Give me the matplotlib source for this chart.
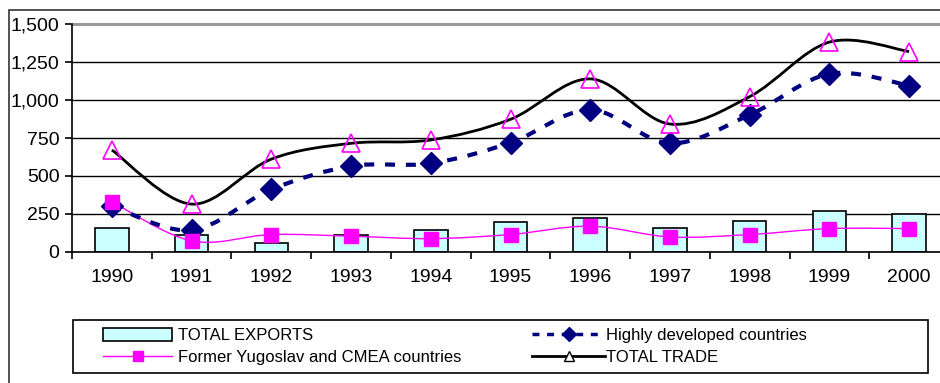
import numpy as np
import matplotlib
matplotlib.use('Agg')
from matplotlib import pyplot as plt
from matplotlib.path import Path
from matplotlib.patches import PathPatch, Rectangle
from matplotlib.lines import Line2D
from matplotlib.ticker import FuncFormatter

plt.rcParams['font.family'] = ['Liberation Sans', 'DejaVu Sans']

years = ['1990', '1991', '1992', '1993', '1994', '1995',
         '1996', '1997', '1998', '1999', '2000']
total_exports = [155, 115, 60, 115, 143, 198, 224, 161, 207, 270, 253]
former_yu_cmea = [330, 73, 115, 104, 88, 115, 170, 99, 115, 154, 154]
highly_developed = [303, 143, 412, 565, 583, 719, 935, 715, 902, 1172, 1095]
total_trade = [671, 315, 611, 715, 737, 873, 1139, 842, 1022, 1381, 1319]


def smooth_path(xs, ys):
    # excel-style smoothed line: cubic bezier through every point
    pts = np.column_stack([xs, ys]).astype(float)
    n = len(pts)
    verts = [pts[0]]
    codes = [Path.MOVETO]
    for i in range(n - 1):
        p0 = pts[i - 1] if i > 0 else pts[i]
        p1 = pts[i]
        p2 = pts[i + 1]
        p3 = pts[i + 2] if i + 2 < n else pts[i + 1]
        c1 = p1 + (p2 - p0) / 6.0
        c2 = p2 - (p3 - p1) / 6.0
        verts += [c1, c2, p2]
        codes += [Path.CURVE4] * 3
    return Path(verts, codes)


W, H = 940, 383
fig = plt.figure(figsize=(W / 100, H / 100), dpi=100)
fig.patch.set_facecolor('white')

# outer chart frame (right and bottom edges fall outside the image)
fig.add_artist(Rectangle((9 / W, -0.05), 1.2, 1 - 10 / H + 0.05,
                         transform=fig.transFigure, fill=False,
                         edgecolor='#333333', linewidth=1.2))

ax = fig.add_axes([72 / W, (H - 252) / H, 877 / W, 228 / H])
x = np.arange(len(years))

ax.bar(x, total_exports, width=0.42, color='#CCFFFF', edgecolor='black',
       linewidth=1.2, zorder=2)

ax.add_patch(PathPatch(smooth_path(x, former_yu_cmea), fill=False,
                       edgecolor='#FF00FF', linewidth=1.0, zorder=3))
ax.add_patch(PathPatch(smooth_path(x, highly_developed), fill=False,
                       edgecolor='#000080', linewidth=3.0,
                       linestyle=(0, (2.4, 2.6)), zorder=3))
ax.add_patch(PathPatch(smooth_path(x, total_trade), fill=False,
                       edgecolor='black', linewidth=2.0, zorder=3))

ax.plot(x, highly_developed, linestyle='none', marker='D', markersize=11.5,
        color='#000080', zorder=4)
ax.plot(x, former_yu_cmea, linestyle='none', marker='s', markersize=10,
        color='#FF00FF', zorder=5)
ax.plot(x, total_trade, linestyle='none', marker='^', markersize=12.5,
        markerfacecolor='none', markeredgecolor='#FF00FF',
        markeredgewidth=1.2, zorder=5)

ax.set_xlim(-0.5, len(years) - 0.5)
ax.set_ylim(0, 1500)
ax.set_yticks(np.arange(0, 1501, 250))
ax.yaxis.set_major_formatter(FuncFormatter(lambda v, p: '{:,.0f}'.format(v)))
ax.set_xticks(x)
ax.set_xticklabels(years)
ax.set_xticks(np.arange(-0.5, len(years), 1), minor=True)
ax.tick_params(axis='x', which='major', length=0, pad=12, labelsize=14)
ax.tick_params(axis='x', which='minor', length=5, width=1.2, direction='out')
ax.tick_params(axis='y', length=5, width=1.2, pad=4, labelsize=14)

ax.grid(axis='y', color='black', linewidth=1.0, zorder=0)
ax.set_axisbelow(True)
for side in ['top', 'right']:
    ax.spines[side].set_visible(False)
ax.spines['left'].set_linewidth(1.2)
ax.spines['bottom'].set_linewidth(1.2)
ax.axhline(1500, color='#999999', linewidth=2.2, zorder=1, clip_on=False)

# legend: frame plus two columns placed separately
fig.add_artist(Rectangle((73 / W, (H - 373) / H), (928 - 73) / W, 53 / H,
                         transform=fig.transFigure, fill=False,
                         edgecolor='black', linewidth=1.2))

h_exports = Rectangle((0, 0), 1, 1, facecolor='#CCFFFF', edgecolor='black',
                      linewidth=1.2)
h_cmea = Line2D([], [], color='#FF00FF', linewidth=1.0, marker='s',
                markersize=7)
h_dev = Line2D([], [], color='#000080', linewidth=2.5,
               linestyle=(0, (2, 2.2)), marker='D', markersize=7)
h_trade = Line2D([], [], color='black', linewidth=2.0, marker='^',
                 markersize=7, markerfacecolor='white',
                 markeredgecolor='black', markeredgewidth=1.0)

leg_kw = dict(loc='center left', fontsize=12, frameon=False,
              borderpad=0, borderaxespad=0, labelspacing=0.42,
              handleheight=0.8)
leg1 = fig.legend([h_exports, h_cmea],
                  ['TOTAL EXPORTS', 'Former Yugoslav and CMEA countries'],
                  bbox_to_anchor=(103 / W, (H - 346.5) / H),
                  handlelength=4.15, handletextpad=0.35, **leg_kw)
leg2 = fig.legend([h_dev, h_trade],
                  ['Highly developed countries', 'TOTAL TRADE'],
                  bbox_to_anchor=(532 / W, (H - 346.5) / H),
                  handlelength=4.4, handletextpad=0.05, **leg_kw)

fig.savefig('out.png', dpi=100, facecolor='white')
